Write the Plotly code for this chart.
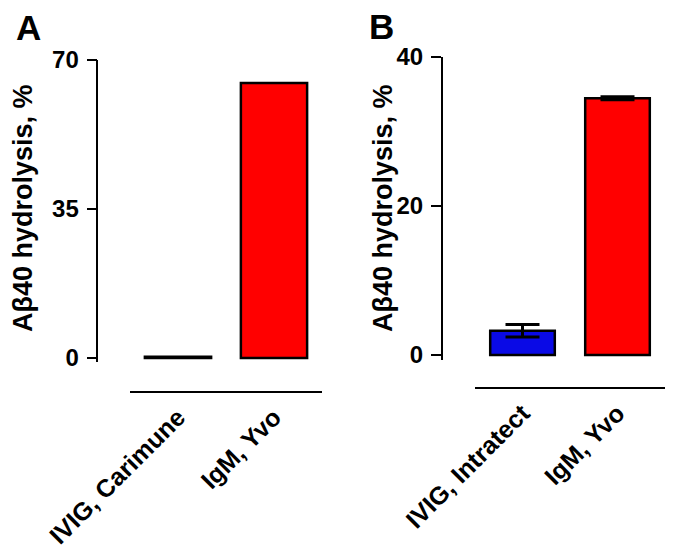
import plotly.graph_objects as go

# The page body has an 8px margin, so the figure is 8px smaller on each axis
OFF = 8
W, H = 676 - OFF, 555 - OFF

# Panel A data
cats_a = ["IVIG, Carimune", "IgM, Yvo"]
vals_a = [0.3, 64.6]
colors_a = ["#000000", "#FF0000"]
yticks_a = [0, 35, 70]

# Panel B data
cats_b = ["IVIG, Intratect", "IgM, Yvo"]
vals_b = [3.25, 34.4]
errs_b = [0.85, 0.2]
colors_b = ["#0A0AE6", "#FF0000"]
yticks_b = [0, 20, 40]

ytitle = "Aβ40 hydrolysis, %"
FONT = "Liberation Sans, Arial, sans-serif"


def px_x(px):
    return (px - OFF) / W


def px_y(py):
    return 1 - (py - OFF) / H


fig = go.Figure()
fig.add_trace(go.Bar(
    x=cats_a, y=vals_a, marker=dict(color=colors_a, line=dict(color="black", width=2.5)),
    width=0.69, xaxis="x", yaxis="y", showlegend=False))
fig.add_trace(go.Bar(
    x=cats_b, y=vals_b, marker=dict(color=colors_b, line=dict(color="black", width=2.5)),
    error_y=dict(type="data", array=errs_b, color="black", thickness=3, width=17),
    width=0.68, xaxis="x2", yaxis="y2", showlegend=False))

tickfont = dict(family=FONT, size=24, color="black", weight="bold")
xtickfont = dict(family=FONT, size=25, color="black", weight="bold")

common_y = dict(showline=True, linecolor="black", linewidth=1.5, ticks="outside", ticklen=10,
                tickwidth=1.5, tickcolor="black", showgrid=False, zeroline=False,
                tickfont=tickfont, anchor="free", ticklabelstandoff=3, automargin=False)
common_x = dict(showline=True, linecolor="black", linewidth=1.5, ticks="", showgrid=False,
                zeroline=False, tickfont=xtickfont, tickangle=-45, anchor="free",
                range=[-0.5, 1.5], automargin=False)

fig.update_layout(
    template="none",
    width=W, height=H, margin=dict(l=0, r=0, t=0, b=0, pad=0),
    paper_bgcolor="white", plot_bgcolor="white", bargap=0.3,
    xaxis=dict(domain=[px_x(130), px_x(322)], position=px_y(392), **common_x),
    yaxis=dict(domain=[px_y(362.3), px_y(60)], position=px_x(97.3), range=[-1, 70],
               tickvals=yticks_a, **common_y),
    xaxis2=dict(domain=[px_x(475), px_x(665)], position=px_y(388), **common_x),
    yaxis2=dict(domain=[px_y(359.5), px_y(56.5)], position=px_x(441.7), range=[-0.6, 40],
                tickvals=yticks_b, **common_y),
    annotations=[
        dict(text="A", x=px_x(28.5), y=px_y(27.5), xref="paper", yref="paper", xanchor="center",
             yanchor="middle", showarrow=False,
             font=dict(family=FONT, size=35, color="black", weight="bold")),
        dict(text="B", x=px_x(381.5), y=px_y(26.5), xref="paper", yref="paper", xanchor="center",
             yanchor="middle", showarrow=False,
             font=dict(family=FONT, size=35, color="black", weight="bold")),
        dict(text=ytitle, x=px_x(23), y=px_y(208), xref="paper", yref="paper", textangle=-90,
             xanchor="center", yanchor="middle", showarrow=False,
             font=dict(family=FONT, size=27, color="black", weight="bold")),
        dict(text=ytitle, x=px_x(383), y=px_y(208), xref="paper", yref="paper", textangle=-90,
             xanchor="center", yanchor="middle", showarrow=False,
             font=dict(family=FONT, size=27, color="black", weight="bold")),
    ],
)

fig.write_html("out.html")
